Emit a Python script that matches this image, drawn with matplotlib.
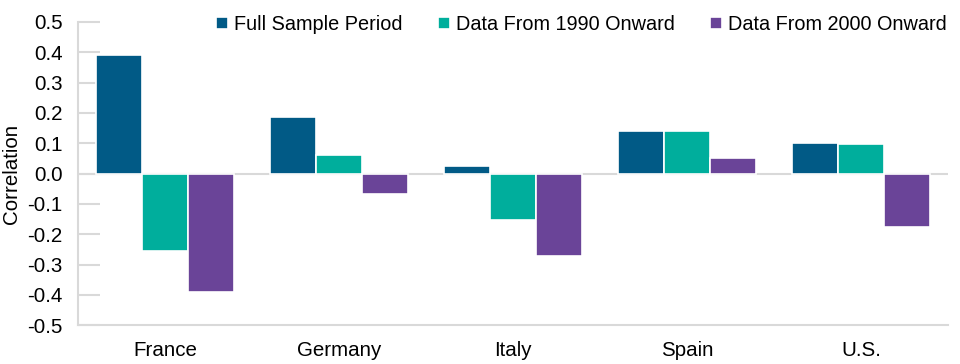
import matplotlib.pyplot as plt
import numpy as np

plt.rcParams['font.family'] = ['Liberation Sans', 'DejaVu Sans']

# Colours
NAVY = '#015A86'
TEAL = '#00AE9C'
PURPLE = '#6A4498'
GREY = '#D9D9D9'

countries = ['France', 'Germany', 'Italy', 'Spain', 'U.S.']
series_names = ['Full Sample Period', 'Data From 1990 Onward', 'Data From 2000 Onward']
full_sample = [0.39, 0.187, 0.024, 0.142, 0.100]
from_1990 = [-0.256, 0.063, -0.153, 0.142, 0.098]
from_2000 = [-0.390, -0.067, -0.270, 0.053, -0.176]
yticks = [-0.5, -0.4, -0.3, -0.2, -0.1, 0.0, 0.1, 0.2, 0.3, 0.4, 0.5]

FS = 14.8

fig = plt.figure(figsize=(9.6, 3.64), dpi=100)
ax = fig.add_axes([0.08125, 0.1063, 0.90625, 0.8333])

x = np.arange(len(countries))
w = 0.265
for i, (vals, col) in enumerate(zip([full_sample, from_1990, from_2000], [NAVY, TEAL, PURPLE])):
    ax.bar(x + (i - 1) * w, vals, w, color=col, edgecolor='white', linewidth=1.2,
           label=series_names[i], zorder=2)

ax.axhline(0, color=GREY, lw=1.5, zorder=1)

ax.set_xlim(-0.5, 4.5)
ax.set_ylim(-0.5, 0.5)
ax.set_yticks(yticks)
ax.set_yticklabels([f'{v:.1f}' for v in yticks])
ax.set_xticks(x)
ax.set_xticklabels(countries)

for s in ['top', 'right']:
    ax.spines[s].set_visible(False)
for s in ['left', 'bottom']:
    ax.spines[s].set_color(GREY)
    ax.spines[s].set_linewidth(1.5)

ax.tick_params(axis='y', direction='in', length=16, width=1.5, color=GREY,
               labelsize=FS, pad=11)
ax.tick_params(axis='x', length=0, labelsize=FS, pad=11)
ax.set_ylabel('Correlation', fontsize=FS)
ax.yaxis.set_label_coords(-0.0655, 0.5)

fig.legend(loc='upper right', bbox_to_anchor=(0.999, 0.992), ncol=3, frameon=False,
           prop={'size': 14.3}, handlelength=0.6, handleheight=0.6, handletextpad=0.3,
           columnspacing=1.8, borderaxespad=0.2)

plt.savefig('out.png', dpi=100)
